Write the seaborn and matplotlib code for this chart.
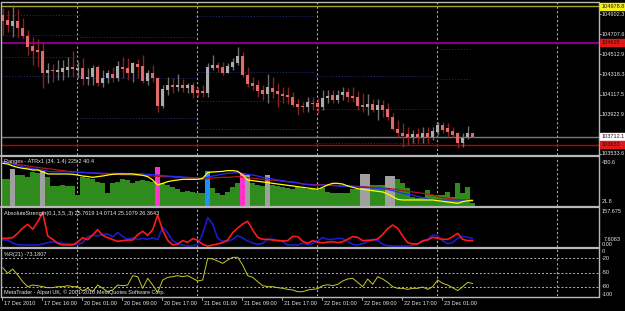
import matplotlib
matplotlib.use('Agg')
import matplotlib.pyplot as plt
import matplotlib.transforms as mtransforms
from matplotlib.patches import Rectangle
from matplotlib.lines import Line2D
import numpy as np
import pandas as pd
import seaborn as sns

# ---------------- data (H1 bars, 17 Dec 08:00 .. 23 Dec 07:00) ----------------
bar_open = [104896, 104847, 104792, 104837, 104766, 104694, 104594, 104555, 104548, 104334,
            104360, 104341, 104344, 104360, 104393, 104360, 104376, 104269, 104289, 104393,
            104230, 104279, 104321, 104279, 104393, 104376, 104328, 104419, 104399, 104253,
            104334, 104279, 104010, 104165, 104214, 104198, 104214, 104188, 104214, 104165,
            104156, 104139, 104376, 104409, 104393, 104334, 104393, 104425, 104496, 104311,
            104230, 104214, 104165, 104126, 104182, 104159, 104126, 104117, 104100, 104029,
            104010, 103997, 104042, 104036, 103997, 104084, 104117, 104068, 104117, 104149,
            104107, 104094, 104019, 104003, 104029, 103971, 104019, 103977, 103906, 103782,
            103744, 103737, 103711, 103737, 103705, 103750, 103711, 103760, 103825, 103792,
            103770, 103744, 103653, 103711, 103744]
bar_high = [104960, 104944, 104993, 104951, 104863, 104749, 104685, 104659, 104636, 104425,
            104419, 104457, 104457, 104483, 104548, 104448, 104474, 104376, 104409, 104409,
            104360, 104360, 104393, 104448, 104490, 104474, 104441, 104464, 104506, 104360,
            104409, 104295, 104214, 104289, 104279, 104321, 104269, 104237, 104247, 104191,
            104214, 104425, 104506, 104441, 104441, 104425, 104474, 104587, 104539, 104393,
            104289, 104263, 104214, 104321, 104289, 104230, 104191, 104191, 104149, 104075,
            104052, 104094, 104094, 104084, 104165, 104165, 104165, 104165, 104191, 104182,
            104191, 104159, 104133, 104126, 104075, 104075, 104068, 104036, 103945, 103873,
            103841, 103802, 103776, 103792, 103802, 103802, 103808, 103857, 103857, 103841,
            103808, 103760, 103744, 103815, 103750]
bar_low = [104701, 104733, 104685, 104685, 104668, 104506, 104409, 104393, 104182, 104237,
           104247, 104263, 104263, 104289, 104295, 104279, 104214, 104214, 104214, 104204,
           104191, 104237, 104247, 104256, 104279, 104263, 104247, 104279, 104230, 104214,
           104247, 103954, 103987, 104117, 104133, 104159, 104149, 104139, 104084, 104100,
           104100, 104100, 104360, 104344, 104311, 104328, 104360, 104409, 104295, 104198,
           104165, 104100, 104068, 104042, 104084, 103997, 104036, 104029, 104003, 103922,
           103954, 103954, 103971, 103938, 103971, 104036, 104036, 104036, 104068, 104052,
           104052, 103971, 103954, 103922, 103954, 103873, 103906, 103873, 103776, 103711,
           103614, 103630, 103653, 103646, 103653, 103646, 103679, 103727, 103750, 103711,
           103711, 103598, 103614, 103685, 103711]
bar_close = [104840, 104798, 104840, 104766, 104694, 104587, 104548, 104535, 104334, 104360,
             104347, 104360, 104376, 104393, 104370, 104376, 104269, 104295, 104376, 104230,
             104279, 104328, 104279, 104399, 104367, 104328, 104425, 104393, 104253, 104334,
             104279, 104010, 104172, 104214, 104198, 104214, 104182, 104214, 104139, 104139,
             104139, 104393, 104409, 104383, 104334, 104399, 104441, 104496, 104311, 104224,
             104204, 104159, 104126, 104191, 104149, 104126, 104110, 104100, 104019, 104003,
             103997, 104052, 104026, 104003, 104091, 104107, 104068, 104117, 104149, 104100,
             104084, 104010, 104003, 104029, 103971, 104019, 103971, 103899, 103782, 103744,
             103718, 103711, 103737, 103711, 103750, 103705, 103770, 103825, 103776, 103760,
             103727, 103646, 103695, 103744, 103712]

# price levels drawn across the chart
level_values = [104978.8, 104625.0, 103712.1, 103633.0]
level_colors = ['#a6a61c', '#800080', '#6d7b8d', '#c00000']
level_box_colors = ['#f0f020', '#e01818', '#ffffff', '#e01818']
level_labels = ['104978.8', '104625', '103712.1', '103633']

# daily pivot segments (start bar, end bar, price)
pivot_start = [0, 0, 0, 0, 16, 16, 16, 39, 39, 39, 39, 63, 63, 63, 88, 88]
pivot_end = [15, 15, 15, 15, 38, 38, 38, 62, 62, 62, 62, 86, 86, 86, 93, 93]
pivot_level = [104895, 104701, 104487, 104302, 104681, 104282, 103893,
               104886, 104341, 104058, 103786, 104302, 103981, 103650, 104564, 104272]

price_ticks = [104902.3, 104707.6, 104512.9, 104318.3, 104117.5, 103922.9, 103533.6]

# Ranges histogram (value, colour class: g=green, s=gray, m=magenta, b=blue)
range_values = [244, 244, 328, 280, 280, 267, 308, 294, 317, 267,
                189, 189, 197, 189, 189, 114, 267, 253, 244, 225,
                217, 128, 217, 225, 244, 239, 211, 233, 239, 233,
                225, 344, 217, 197, 183, 161, 141, 150, 141, 133,
                128, 317, 169, 128, 114, 141, 183, 211, 300, 280,
                211, 197, 189, 280, 197, 189, 178, 169, 161, 178,
                169, 161, 169, 155, 175, 141, 128, 128, 128, 128,
                161, 161, 289, 289, 197, 197, 197, 272, 272, 244,
                211, 169, 100, 86, 100, 155, 114, 114, 114, 141,
                100, 211, 133, 178, 44]
range_class = list('ggsgggggsg' 'gggggggggg' 'gggggggggg' 'gmgggggggg'
                   'gbggggggms' 'gggsgggggg' 'gggggggggg' 'ggssgggssg'
                   'gggggggggg' 'ggggg')
atr_yellow = [378, 372, 356, 344, 336, 331, 322, 322, 308, 289,
              289, 289, 289, 289, 286, 280, 272, 267, 261, 267,
              272, 280, 286, 289, 289, 289, 289, 283, 278, 267,
              239, 197, 211, 225, 233, 239, 244, 244, 244, 244,
              253, 300, 306, 308, 311, 317, 317, 311, 280, 239,
              233, 228, 222, 217, 211, 205, 200, 194, 189, 183,
              178, 172, 166, 161, 178, 197, 211, 211, 205, 189,
              178, 166, 161, 155, 150, 144, 139, 122, 100, 77,
              72, 72, 72, 72, 72, 72, 72, 66, 61, 55,
              50, 44, 58, 66, 66]
atr_blue = [392, 383, 372, 361, 350, 342, 333, 328, 322, 311,
            308, 308, 308, 308, 305, 303, 300, 300, 297, 297,
            294, 294, 294, 294, 294, 291, 291, 291, 289, 286,
            283, 280, 275, 272, 269, 267, 264, 261, 258, 256,
            253, 261, 272, 280, 289, 294, 297, 300, 294, 286,
            280, 272, 261, 253, 247, 239, 233, 225, 219, 214,
            205, 200, 197, 194, 197, 194, 192, 189, 186, 186,
            183, 180, 178, 175, 172, 169, 164, 161, 150, 139,
            128, 117, 114, 100, 92, 78, 75, 72, 72, 72,
            72, 72, 72, 72, 72]
atr_red = [392, 385, 378, 370, 364, 356, 350, 344, 338, 333,
           328, 322, 317, 311, 308, 305, 303, 300, 297, 294,
           289, 289, 286, 286, 283, 283, 280, 280, 278, 275,
           272, 269, 267, 267, 264, 261, 258, 256, 253, 250,
           244, 250, 256, 258, 261, 261, 264, 267, 264, 258,
           253, 250, 244, 239, 236, 233, 228, 225, 222, 217,
           206, 203, 200, 200, 200, 198, 196, 194, 192, 190,
           188, 186, 183, 180, 178, 175, 172, 169, 164, 158,
           150, 144, 139, 133, 128, 122, 114, 100, 92, 86,
           80, 75, 72, 72, 72]

# AbsoluteStrength lines
as_red = [35.1, 35.1, 37.8, 55.3, 76.8, 91.7, 71.4, 102.4, 138.8, 44.5,
          31.0, 14.8, 8.1, 8.1, 8.1, 20.2, 37.8, 29.7, 48.5, 70.1,
          47.2, 37.8, 29.7, 22.9, 25.6, 28.3, 28.3, 49.9, 63.4, 47.2,
          70.1, 129.4, 67.4, 27.0, 8.1, 12.2, 25.6, 18.9, 33.7, 27.0,
          10.8, 4.1, 8.1, 12.2, 17.5, 28.3, 58.0, 76.8, 93.0, 103.8,
          68.8, 39.1, 31.0, 31.0, 28.3, 25.6, 24.3, 25.6, 43.1, 41.8,
          22.9, 14.8, 25.6, 20.2, 16.2, 20.2, 21.6, 17.5, 21.6, 31.0,
          41.8, 39.1, 25.6, 27.0, 28.3, 32.4, 51.2, 74.1, 89.0, 75.5,
          44.5, 17.5, 12.2, 12.2, 25.6, 28.3, 39.1, 35.1, 31.0, 31.0,
          41.8, 55.3, 31.0, 25.6, 25.8]
as_blue = [29.7, 27.0, 16.2, 9.5, 8.1, 8.1, 8.1, 8.1, 12.2, 17.5,
           21.6, 17.5, 14.8, 13.5, 12.2, 9.5, 17.5, 41.8, 48.5, 44.5,
           51.2, 52.6, 40.4, 59.3, 41.8, 31.0, 37.8, 29.7, 35.1, 31.0,
           37.8, 29.7, 79.5, 58.0, 25.6, 13.5, 6.8, 4.1, 5.4, 8.1,
           55.3, 118.6, 93.0, 35.1, 22.9, 22.9, 31.0, 45.8, 36.4, 24.3,
           16.2, 10.8, 14.8, 31.0, 31.0, 28.3, 21.6, 8.1, 8.1, 8.1,
           14.8, 9.5, 14.8, 25.6, 37.8, 31.0, 31.0, 35.1, 33.7, 21.6,
           10.8, 8.1, 13.5, 21.6, 31.0, 25.6, 10.8, 5.4, 4.1, 4.1,
           4.1, 4.1, 6.8, 13.5, 21.6, 32.4, 48.5, 44.5, 24.3, 13.5,
           18.9, 35.1, 43.1, 39.1, 35.1]

# Williams %R(21)
wpr = [-39.8, -51.8, -42.6, -55.3, -69.4, -79.9, -76.4, -77.8, -79.9, -82.0,
       -82.0, -79.9, -79.9, -77.8, -79.9, -79.9, -89.0, -83.4, -90.5, -76.4,
       -83.4, -90.5, -86.9, -76.4, -77.8, -76.4, -56.7, -58.8, -83.4, -62.3,
       -76.4, -91.9, -65.8, -60.2, -58.8, -56.7, -58.8, -56.7, -62.3, -67.9,
       -65.8, -20.1, -21.5, -25.7, -30.7, -23.6, -18.0, -18.0, -34.2, -56.7,
       -60.2, -69.4, -77.8, -79.9, -79.9, -82.0, -83.4, -85.5, -86.9, -90.5,
       -90.5, -86.9, -85.5, -84.1, -77.8, -75.7, -77.8, -75.0, -67.9, -63.7,
       -62.3, -70.8, -79.9, -63.7, -75.0, -58.8, -63.7, -70.8, -79.9, -83.4,
       -83.4, -85.5, -83.4, -83.4, -80.6, -85.5, -79.9, -65.8, -72.9, -76.4,
       -82.0, -88.3, -79.9, -70.8, -73.2]
wpr_levels = [-20, -50, -80]

date_tick_bars = [0, 8, 16, 24, 32, 40, 48, 56, 64, 72, 80, 88]
date_tick_labels = ['17 Dec 2010', '17 Dec 16:00', '20 Dec 01:00', '20 Dec 09:00',
                    '20 Dec 17:00', '21 Dec 01:00', '21 Dec 09:00', '21 Dec 17:00',
                    '22 Dec 01:00', '22 Dec 09:00', '22 Dec 17:00', '23 Dec 01:00']
day_separator_bars = [15, 39, 63, 87, 111]

# ---------------- styling ----------------
sns.set_theme(style='dark')
plt.rcParams['font.family'] = ['Liberation Sans', 'DejaVu Sans']
plt.rcParams['axes.facecolor'] = 'black'
plt.rcParams['figure.facecolor'] = 'black'

W, H = 625, 311
fig = plt.figure(figsize=(W / 100, H / 100), dpi=100, facecolor='black')
XL, XR = 1, 599
XMIN = -0.34
XMAX = XMIN + (XR - XL) / 5.0
TXT = '#e6e6e6'
FS = 3.95


def panel(top, bottom):
    ax = fig.add_axes([XL / W, 1 - bottom / H, (XR - XL) / W, (bottom - top) / H])
    ax.set_facecolor('black')
    ax.set_xlim(XMIN, XMAX)
    ax.set_xticks([])
    ax.set_yticks([])
    ax.grid(False)
    for s in ax.spines.values():
        s.set_visible(False)
    return ax


def fig_px_y(ax, value):
    disp = ax.transData.transform((0, value))
    return H - disp[1]


def hline_px(y, color, lw=1.0, x0=XL, x1=XR, ls='-'):
    fig.add_artist(Line2D([x0 / W, x1 / W], [1 - y / H, 1 - y / H], transform=fig.transFigure,
                          color=color, lw=lw, ls=ls))


def rtext(y, s, color=TXT, x=601.5):
    fig.text(x / W, 1 - y / H, s, color=color, fontsize=FS, va='center', ha='left')


n = len(bar_close)
bars = np.arange(n)

# ---------------- main price panel ----------------
ax1 = panel(2, 155)
ax1.set_ylim(103533.6, 105022.0)
df = pd.DataFrame({'bar': bars, 'o': bar_open, 'h': bar_high, 'l': bar_low, 'c': bar_close})
df['up'] = df['c'] >= df['o']

for sb, eb, lv in zip(pivot_start, pivot_end, pivot_level):
    ax1.plot([sb - 0.5, eb + 0.5], [lv, lv], color='#1f2a78', lw=0.7, ls=(0, (1.2, 1.8)), zorder=1)

for lv, lc in zip(level_values, level_colors):
    ax1.axhline(lv, color=lc, lw=1.6 if lc == '#800080' else 1.0, zorder=2)

wick_col = np.where(df['up'], '#6e6e6e', '#8a2222')
ax1.vlines(df['bar'], df['l'], df['h'], colors=wick_col, lw=1.0, zorder=3)
body_bot = np.minimum(df['o'], df['c'])
body_h = np.maximum(np.abs(df['c'] - df['o']), 9)
body_col = np.where(df['up'], '#ababab', '#e06a6a')
ax1.bar(df['bar'], body_h, bottom=body_bot, width=0.62, color=body_col, linewidth=0, zorder=4)

# ---------------- Ranges / ATR panel ----------------
ax2 = panel(157, 206)
cls_col = {'g': '#2f8c1c', 's': '#a0a0a0', 'm': '#ff33cc', 'b': '#1e8fff'}
rdf = pd.DataFrame({'bar': bars, 'v': range_values, 'k': range_class})
ax2.bar(rdf['bar'], rdf['v'] - 21.8, bottom=21.8, width=1.0,
        color=[cls_col[k] for k in rdf['k']], linewidth=0, zorder=1)
sns.lineplot(x=bars, y=atr_red, ax=ax2, color='#b01818', lw=0.9, zorder=3)
sns.lineplot(x=bars, y=atr_blue, ax=ax2, color='#2a2aff', lw=0.9, zorder=3)
sns.lineplot(x=bars, y=atr_yellow, ax=ax2, color='#ffff00', lw=0.9, zorder=4)
ax2.set_xlim(XMIN, XMAX)
ax2.set_ylim(21.8, 430.6)
ax2.set_xlabel(''); ax2.set_ylabel('')

# ---------------- AbsoluteStrength panel ----------------
ax3 = panel(208, 247)
sns.lineplot(x=bars, y=as_blue, ax=ax3, color='#1a1acc', lw=1.2)
sns.lineplot(x=bars, y=as_red, ax=ax3, color='#ff1a1a', lw=1.2)
ax3.set_xlim(XMIN, XMAX)
ax3.set_ylim(0, 157.675)
ax3.set_xlabel(''); ax3.set_ylabel('')

# ---------------- %R panel ----------------
ax4 = panel(248.8, 296.2)
for lv in wpr_levels:
    ax4.axhline(lv, color='#b4b4b4', lw=0.7, ls=(0, (2, 2)), zorder=1)
sns.lineplot(x=bars, y=wpr, ax=ax4, color='#c8c830', lw=0.7, zorder=3)
ax4.set_xlim(XMIN, XMAX)
ax4.set_ylim(-100, 0)
ax4.set_xlabel(''); ax4.set_ylabel('')

# day separators across every panel
for ax in (ax1, ax2, ax3, ax4):
    for b in day_separator_bars:
        ax.axvline(b - 0.12, color='#a8a8a8', lw=0.8, ls=(0, (2, 2)), zorder=0.5)

# ---------------- frame lines ----------------
GR = '#b8b8b8'
hline_px(1.5, GR, 1.0)
hline_px(156, GR, 1.6)
hline_px(207, GR, 1.6)
hline_px(247.9, GR, 1.6)
hline_px(296.5, GR, 1.0)
fig.add_artist(Line2D([1.5 / W, 1.5 / W], [1 - 1.5 / H, 1 - 296.5 / H], transform=fig.transFigure, color=GR, lw=1.0))
fig.add_artist(Line2D([599 / W, 599 / W], [1 - 1.5 / H, 1 - 296.5 / H], transform=fig.transFigure, color=GR, lw=1.0))

fig.canvas.draw()

# right price scale
for v in price_ticks:
    y = fig_px_y(ax1, v)
    if v == price_ticks[-1]:
        y -= 1
    hline_px(y, GR, 0.6, 599, 601)
    rtext(y, f'{v:.1f}')
for v, bc, lab in zip(level_values, level_box_colors, level_labels):
    y = fig_px_y(ax1, v)
    fig.add_artist(Rectangle((600 / W, 1 - (y + 3.4) / H), 26 / W, 6.8 / H,
                             transform=fig.transFigure, color=bc, zorder=5))
    fig.text(601.5 / W, 1 - y / H, lab, color='#301010', fontsize=FS, va='center', ha='left', zorder=6)

rtext(162, '430.6')
rtext(201.5, '21.8')
rtext(211.5, '157.675')
rtext(239.3, '7.6083', x=604)
rtext(244.6, '0.00')
rtext(251.5, '0')
for lv in wpr_levels:
    rtext(fig_px_y(ax4, lv), str(lv))
rtext(294, '-100')

# panel captions
fig.text(4 / W, 1 - 162 / H, 'Ranges - ATRx1 (34, 1.4) 225.2 40.4', color=TXT, fontsize=FS, va='center')
fig.text(4 / W, 1 - 213 / H, 'AbsoluteStrength(0,1,3,5,,3) 25.7619 14.0714 25.1079 26.3643',
         color=TXT, fontsize=FS, va='center')
fig.text(4 / W, 1 - 254.5 / H, '%R(21) -73.1807', color=TXT, fontsize=FS, va='center')
fig.text(4 / W, 1 - 292.5 / H, 'MetaTrader - Alpari UK, \u00a9 2001-2010 MetaQuotes Software Corp.',
         color=TXT, fontsize=FS, va='center')

# time axis
tb = mtransforms.blended_transform_factory(ax4.transData, fig.transFigure)
for b, lab in zip(date_tick_bars, date_tick_labels):
    fig.add_artist(Line2D([b - 0.1, b - 0.1], [1 - 296.5 / H, 1 - 300 / H], transform=tb, color=GR, lw=0.6))
    fig.text(b, 1 - 303.5 / H, lab, color=TXT, fontsize=FS, va='center', ha='left',
             transform=mtransforms.offset_copy(tb, fig=fig, x=1.0, y=0, units='dots'))

fig.savefig('out.png', dpi=100, facecolor='black')
